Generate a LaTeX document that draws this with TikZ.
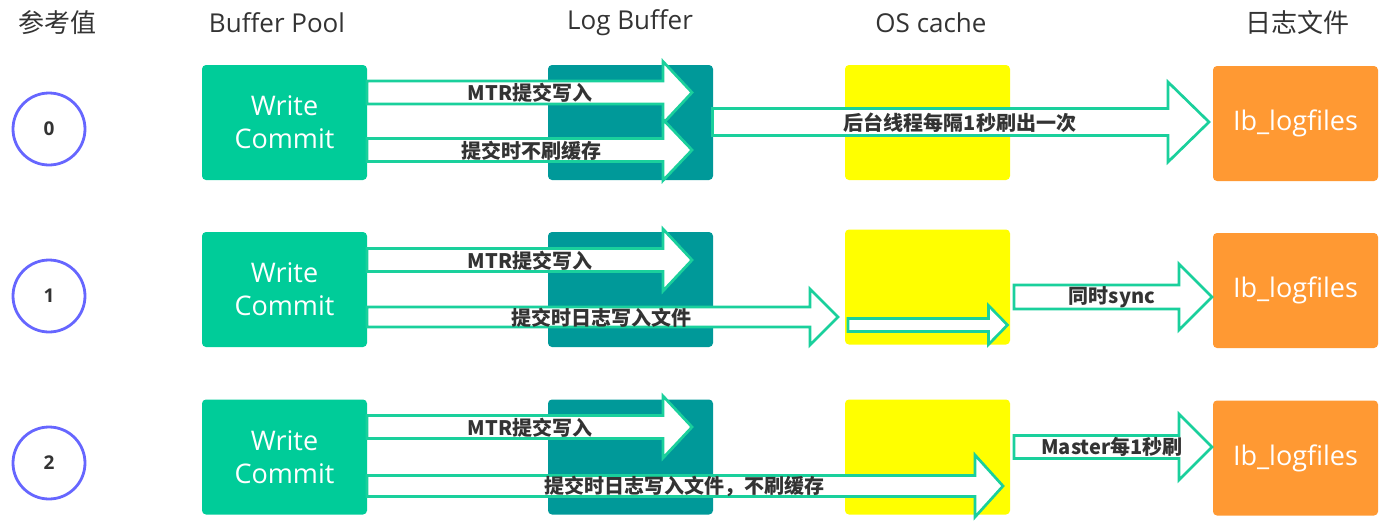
\documentclass[tikz,border=0pt]{standalone}
\usepackage{fontspec}
\setmainfont{Open Sans}
\newfontfamily\cjk{Noto Sans CJK SC}
\definecolor{wcgreen}{RGB}{0,204,153}
\definecolor{lbteal}{RGB}{0,153,153}
\definecolor{osyellow}{RGB}{255,255,0}
\definecolor{iborange}{RGB}{255,153,51}
\definecolor{arrowline}{RGB}{26,208,156}
\definecolor{circblue}{RGB}{102,102,255}
\definecolor{txtdark}{RGB}{51,51,51}
\newcommand\blockarr[6]{% x1, tip, yc, shaft half, head half, head length
  \filldraw[arrowst] (#1,{#3-#4}) -- ({#2-#6},{#3-#4}) -- ({#2-#6},{#3-#5}) -- (#2,#3)
    -- ({#2-#6},{#3+#5}) -- ({#2-#6},{#3+#4}) -- (#1,{#3+#4}) -- cycle;}
\tikzset{
  box/.style={rounded corners=4pt, minimum width=165pt, minimum height=115pt, inner sep=0pt, align=center, text=white, font=\fontsize{27}{33}\selectfont},
  wcbox/.style={box, fill=wcgreen},
  lbbox/.style={box, fill=lbteal},
  osbox/.style={box, fill=osyellow},
  ibbox/.style={box, fill=iborange},
  arrowst/.style={fill=white, draw=arrowline, line width=2.7pt},
  lbl/.style={text=txtdark, inner sep=0pt, font=\cjk\bfseries\fontsize{20}{23}\selectfont},
  hdr/.style={text=txtdark, inner sep=0pt, font=\fontsize{26}{31}\selectfont},
  hdrc/.style={text=txtdark, inner sep=0pt, font=\cjk\fontsize{26}{31}\selectfont},
  circ/.style={circle, draw=circblue, line width=2.8pt, minimum size=72pt, inner sep=0pt, text=txtdark, font=\bfseries\fontsize{19}{22}\selectfont}
}
\begin{document}
\begin{tikzpicture}[x=1pt, y=-1pt]
\useasboundingbox (0,0) rectangle (1389,523);
% headers
\node[hdrc] (h0) at (57,23) {参考值};
\node[hdr] (h1) at (277,23) {Buffer Pool};
\node[hdr] (h2) at (630,23) {Log Buffer};
\node[hdr] (h3) at (931,23) {OS cache};
\node[hdrc] (h4) at (1297,23) {日志文件};
% circles
\node[circ] (c0) at (49,129) {0};
\node[circ] (c1) at (49,296) {1};
\node[circ] (c2) at (49,463) {2};
% row 0 boxes
\node[wcbox] (wc0) at (284.5,122.5) {Write\\Commit};
\node[lbbox] (lb0) at (630.5,122.5) {};
\node[osbox] (os0) at (927.5,122.5) {};
\node[ibbox] (ib0) at (1295.5,123.5) {Ib\_logfiles};
% row 1 boxes
\node[wcbox] (wc1) at (284.5,289.5) {Write\\Commit};
\node[lbbox] (lb1) at (630.5,289.5) {};
\node[osbox] (os1) at (927.5,287) {};
\node[ibbox] (ib1) at (1295.5,290.5) {Ib\_logfiles};
% row 2 boxes
\node[wcbox] (wc2) at (284.5,457) {Write\\Commit};
\node[lbbox] (lb2) at (630.5,457) {};
\node[osbox] (os2) at (927.5,457) {};
\node[ibbox] (ib2) at (1295.5,458) {Ib\_logfiles};
% row 0 arrows
\blockarr{367}{692}{92.5}{11.5}{31}{29}
\blockarr{367}{692}{150}{11.5}{30.5}{29}
\blockarr{712.5}{1209}{122}{13.5}{40}{41}
% row 1 arrows
\blockarr{367}{692}{260}{11.5}{31}{29}
\blockarr{367}{838}{317}{10}{28}{28}
\blockarr{848}{1007.5}{325}{6.5}{19.5}{19}
\blockarr{1014}{1212}{297}{12}{33}{33}
% row 2 arrows
\blockarr{367}{692}{427}{11.5}{31}{29}
\blockarr{367}{1003}{486}{10.5}{31}{28}
\blockarr{1014}{1212}{447}{11.5}{33}{33}
% labels
\node[lbl] (l01) at (530,93) {MTR提交写入};
\node[lbl] (l02) at (531,151) {提交时不刷缓存};
\node[lbl] (l03) at (960,123) {后台线程每隔1秒刷出一次};
\node[lbl] (l11) at (530,261) {MTR提交写入};
\node[lbl] (l12) at (601,318) {提交时日志写入文件};
\node[lbl] (l13) at (1112,297) {同时sync};
\node[lbl] (l21) at (530,428) {MTR提交写入};
\node[lbl] (l22) at (684,486) {提交时日志写入文件，不刷缓存};
\node[lbl] (l23) at (1112,447) {Master每1秒刷};
\end{tikzpicture}
\end{document}
